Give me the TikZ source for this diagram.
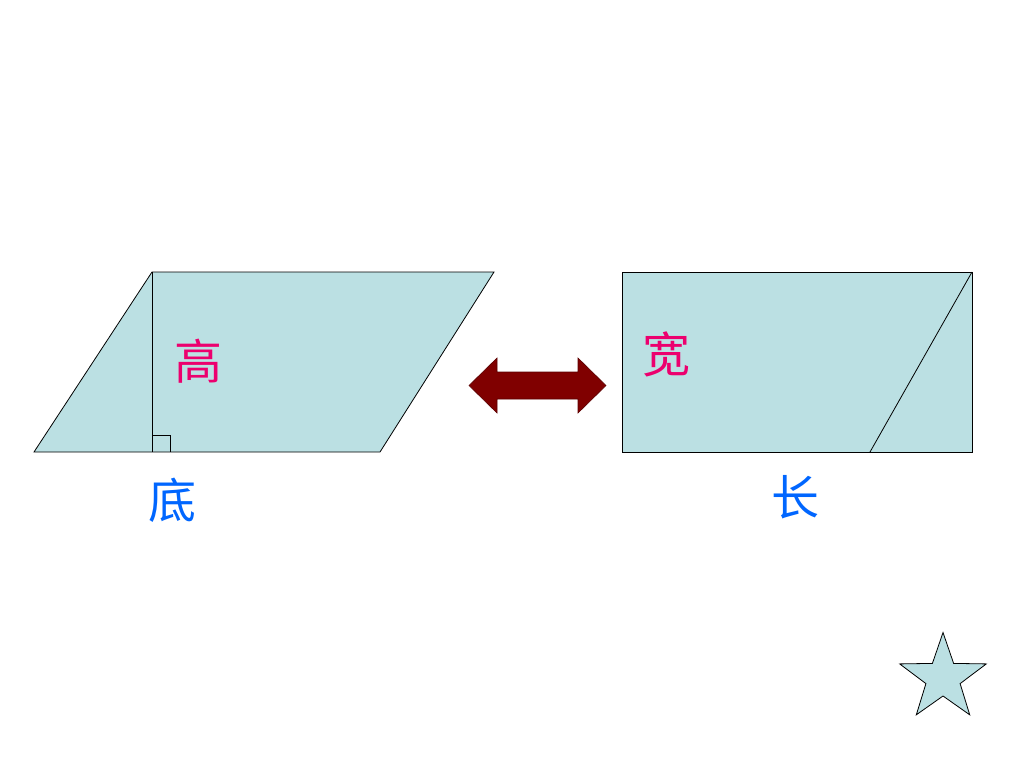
\documentclass[tikz,border=0pt]{standalone}
\usepackage{fontspec}
\newfontfamily\cjk{Noto Sans CJK SC}
\definecolor{shapefill}{RGB}{187,224,227}
\definecolor{pinktext}{RGB}{236,0,110}
\definecolor{bluetext}{RGB}{0,102,255}
\definecolor{arrowred}{RGB}{128,0,0}
\begin{document}
\begin{tikzpicture}[x=1pt,y=-1pt,
  figbox/.style={fill=shapefill,draw=black,line width=0.8pt},
  lbl/.style={font=\cjk\fontsize{48}{48}\selectfont,inner sep=0pt},
  pinklbl/.style={lbl,text=pinktext},
  bluelbl/.style={lbl,text=bluetext}]
\useasboundingbox (0,0) rectangle (1024,768);
% parallelogram
\coordinate (pa) at (34,452);
\coordinate (pb) at (152,272);
\coordinate (pc) at (494,272);
\coordinate (pd) at (380,452);
\coordinate (pf) at (152,452);
\draw[figbox] (pa) -- (pb) -- (pc) -- (pd) -- cycle;
\draw[line width=0.8pt] (pb) -- (pf);
\draw[line width=0.6pt] (152,435) -- (170,435) -- (170,452);
% rectangle
\coordinate (ra) at (622,272);
\coordinate (rb) at (972,272);
\coordinate (rc) at (972,452);
\coordinate (re) at (870,452);
\draw[figbox] (ra) rectangle (rc);
\draw[line width=0.8pt] (rb) -- (re);
% double arrow
\draw[fill=arrowred,draw=arrowred!70!black,line width=0.6pt,line join=miter]
  (469,385.5) -- (497,358) -- (497,372) -- (578,372) -- (578,358) -- (606,385.5)
  -- (578,413) -- (578,399) -- (497,399) -- (497,413) -- cycle;
% labels
\node[pinklbl] (gao) at (198,361) {高};
\node[bluelbl] (di) at (172,500) {底};
\node[pinklbl] (kuan) at (666,354) {宽};
\node[bluelbl] (chang) at (795,497) {长};
% star
\draw[figbox] (943,632.5) -- (953.6,663.4) -- (986.3,663.9) -- (960.1,683.6)
  -- (969.7,714.8) -- (943,696) -- (916.3,714.8) -- (925.9,683.6)
  -- (899.7,663.9) -- (932.4,663.4) -- cycle;
\end{tikzpicture}
\end{document}
